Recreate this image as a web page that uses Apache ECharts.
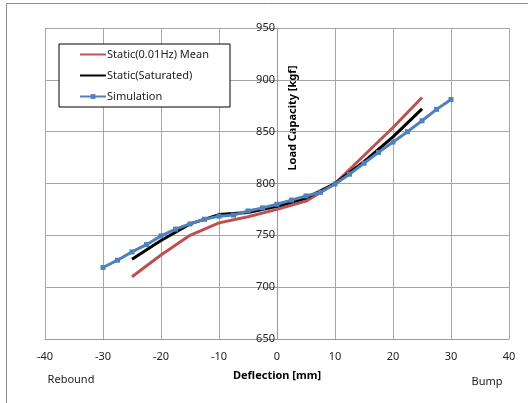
<!DOCTYPE html>
<html>
<head>
<meta charset="UTF-8">
<title>Load Capacity vs Deflection</title>
<script src="https://cdn.jsdelivr.net/npm/echarts@6/dist/echarts.min.js"></script>
<style>
    html, body { margin: 0; padding: 0; background: #fff; }
    #chart { width: 528px; height: 403px; }
</style>
</head>
<body>
<div id="chart"></div>
<script>
    // data
    const staticMeanX = [-25, -20, -15, -10, -5, 0, 5, 10, 15, 20, 25];
    const staticMeanY = [710, 731, 750, 762, 768, 775, 783, 800, 827, 854, 883];

    const saturatedX = [-25, -20, -15, -10, -5, 0, 5, 10, 15, 20, 25];
    const saturatedY = [727, 745, 761, 770, 772, 778, 786, 800, 821, 845, 872];

    const simX = [-30, -27.5, -25, -22.5, -20, -17.5, -15, -12.5, -10, -7.5, -5, -2.5, 0,
                  2.5, 5, 7.5, 10, 12.5, 15, 17.5, 20, 22.5, 25, 27.5, 30];
    const simY = [719, 726, 734, 741, 749.5, 756, 761, 765.5, 768.5, 769.5, 773.5, 776.5, 780,
                  784, 788, 791.5, 799.5, 809, 819.5, 830, 840, 850, 860.5, 871.5, 881];

    const seriesNames = ['Static(0.01Hz) Mean', 'Static(Saturated)', 'Simulation'];

    const pair = (xs, ys) => xs.map((x, i) => [x, ys[i]]);
    const font = 'Noto Sans';

    const chart = echarts.init(document.getElementById('chart'));

    chart.setOption({
        animation: false,
        textStyle: { fontFamily: font },
        grid: { left: 45, right: 19, top: 28, bottom: 64 },
        legend: {
            orient: 'vertical',
            left: 59,
            top: 44,
            padding: [5, 21, 5, 20],
            itemWidth: 26,
            itemHeight: 6,
            itemGap: 10,
            borderColor: '#000',
            borderWidth: 1,
            backgroundColor: '#fff',
            textStyle: { fontFamily: font, fontSize: 11, color: '#222', padding: [0, 0, 0, -4] },
            data: [
                { name: seriesNames[0], itemStyle: { opacity: 0 } },
                { name: seriesNames[1], itemStyle: { opacity: 0 } },
                { name: seriesNames[2] }
            ]
        },
        xAxis: {
            type: 'value',
            min: -40, max: 40, interval: 10,
            axisLine: { show: true, onZero: false, lineStyle: { color: '#999' } },
            axisTick: { show: false },
            axisLabel: { fontSize: 11, color: '#222', margin: 12 },
            splitLine: { show: true, lineStyle: { color: '#a6a6a6', width: 1 } }
        },
        yAxis: {
            type: 'value',
            position: 'left',
            offset: -232,
            min: 650, max: 950, interval: 50,
            axisLine: { show: true, onZero: false, lineStyle: { color: '#999' } },
            axisTick: { show: true, length: 6, lineStyle: { color: '#999' } },
            axisLabel: { fontSize: 11, color: '#222', margin: 2 },
            splitLine: { show: true, lineStyle: { color: '#a6a6a6', width: 1 } }
        },
        series: [
            {
                name: seriesNames[0], type: 'line', symbol: 'none',
                lineStyle: { color: '#c0504d', width: 3 }, itemStyle: { color: '#c0504d' },
                data: pair(staticMeanX, staticMeanY)
            },
            {
                name: seriesNames[1], type: 'line', symbol: 'none',
                lineStyle: { color: '#000', width: 3 }, itemStyle: { color: '#000' },
                data: pair(saturatedX, saturatedY)
            },
            {
                name: seriesNames[2], type: 'line', symbol: 'rect', symbolSize: 5,
                lineStyle: { color: '#4f81bd', width: 3 }, itemStyle: { color: '#4f81bd' },
                data: pair(simX, simY)
            }
        ],
        graphic: [
            {
                type: 'rect', silent: true, z: -10,
                shape: { x: 6.5, y: 3.5, width: 540, height: 420 },
                style: { fill: 'none', stroke: '#8c8c8c', lineWidth: 1 }
            },
            {
                type: 'text', x: 293, y: 118, rotation: Math.PI / 2,
                style: { text: 'Load Capacity [kgf]', font: 'bold 11px ' + font, fill: '#000', textAlign: 'center', textVerticalAlign: 'middle' }
            },
            {
                type: 'text', x: 277, y: 376,
                style: { text: 'Deflection [mm]', font: 'bold 11px ' + font, fill: '#000', textAlign: 'center', textVerticalAlign: 'middle' }
            },
            {
                type: 'text', x: 71, y: 380,
                style: { text: 'Rebound', font: '11px ' + font, fill: '#222', textAlign: 'center', textVerticalAlign: 'middle' }
            },
            {
                type: 'text', x: 487, y: 382,
                style: { text: 'Bump', font: '11px ' + font, fill: '#222', textAlign: 'center', textVerticalAlign: 'middle' }
            }
        ]
    });
</script>
</body>
</html>
